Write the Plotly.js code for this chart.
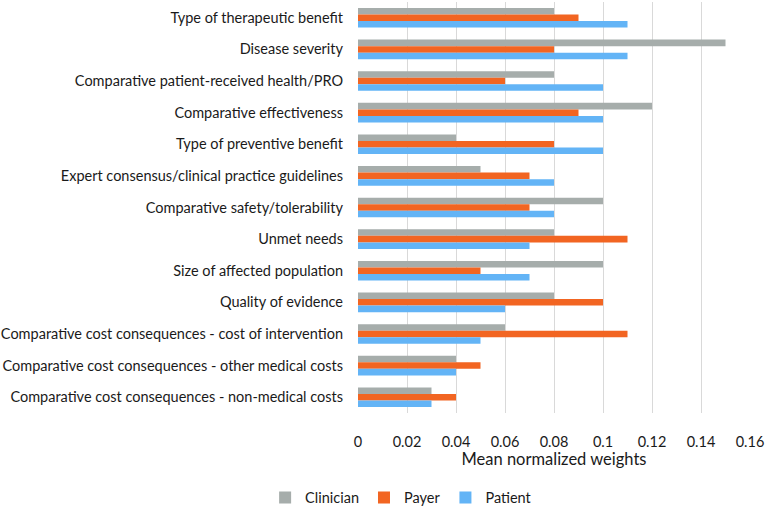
<!DOCTYPE html>
<html>
<head>
<meta charset="utf-8">
<script src="https://cdn.plot.ly/plotly-3.0.1.min.js"></script>
<style>html,body{margin:0;padding:0;background:#fff;}#chart{width:765px;height:516px;}</style>
</head>
<body>
<div id="chart"></div>
<script>
const categories = [
  "Type of therapeutic benefit",
  "Disease severity",
  "Comparative patient-received health/PRO",
  "Comparative effectiveness",
  "Type of preventive benefit",
  "Expert consensus/clinical practice guidelines",
  "Comparative safety/tolerability",
  "Unmet needs",
  "Size of affected population",
  "Quality of evidence",
  "Comparative cost consequences - cost of intervention",
  "Comparative cost consequences - other medical costs",
  "Comparative cost consequences - non-medical costs"
];
const clinician = [0.08, 0.15, 0.08, 0.12, 0.04, 0.05, 0.10, 0.08, 0.10, 0.08, 0.06, 0.04, 0.03];
const payer     = [0.09, 0.08, 0.06, 0.09, 0.08, 0.07, 0.07, 0.11, 0.05, 0.10, 0.11, 0.05, 0.04];
const patient   = [0.11, 0.11, 0.10, 0.10, 0.10, 0.08, 0.08, 0.07, 0.07, 0.06, 0.05, 0.04, 0.03];
const seriesNames = ["Clinician", "Payer", "Patient"];
const xTicks = [0, 0.02, 0.04, 0.06, 0.08, 0.1, 0.12, 0.14, 0.16];
const xTickText = ["0", "0.02", "0.04", "0.06", "0.08", "0.1", "0.12", "0.14", "0.16"];

const colors = ["#a6adab", "#f26522", "#63b4f6"];
const seriesData = [clinician, payer, patient];
const FONT = "Lato, 'Open Sans', sans-serif";

const traces = seriesData.map((vals, i) => ({
  type: "bar",
  orientation: "h",
  name: seriesNames[i],
  x: vals,
  y: categories,
  marker: {color: colors[i], line: {width: 0}},
  hoverinfo: "x+name"
}));

const layout = {
  width: 765, height: 516,
  margin: {l: 358, r: 15, t: 2, b: 96},
  paper_bgcolor: "#ffffff",
  plot_bgcolor: "#ffffff",
  barmode: "group",
  bargap: 0.38,
  bargroupgap: 0,
  font: {family: FONT, size: 14.5, color: "#1a1a1a"},
  xaxis: {
    range: [0, 0.16],
    tickvals: xTicks,
    ticktext: xTickText,
    showgrid: true,
    gridcolor: "#d9d9d9",
    gridwidth: 1,
    zeroline: false,
    showline: false,
    ticks: "",
    ticklen: 0,
    ticklabelstandoff: 18,
    ticklabeloverflow: "allow",
    tickfont: {family: FONT, size: 14.5, color: "#1a1a1a"},
    title: {text: "Mean normalized weights", font: {family: FONT, size: 16.5, color: "#1a1a1a"}, standoff: 2}
  },
  yaxis: {
    type: "category",
    autorange: "reversed",
    showgrid: false,
    zeroline: false,
    showline: false,
    ticks: "",
    ticklen: 0,
    ticklabelstandoff: 14,
    tickfont: {family: FONT, size: 14.5, color: "#1a1a1a"}
  },
  showlegend: true,
  legend: {
    orientation: "h",
    x: 0.11, xanchor: "center",
    y: -0.206, yanchor: "middle",
    font: {family: FONT, size: 14.5, color: "#1a1a1a"},
    itemwidth: 30,
    traceorder: "normal",
    bgcolor: "rgba(0,0,0,0)"
  }
};

Plotly.newPlot("chart", traces, layout, {displayModeBar: false, staticPlot: true});
</script>
</body>
</html>
